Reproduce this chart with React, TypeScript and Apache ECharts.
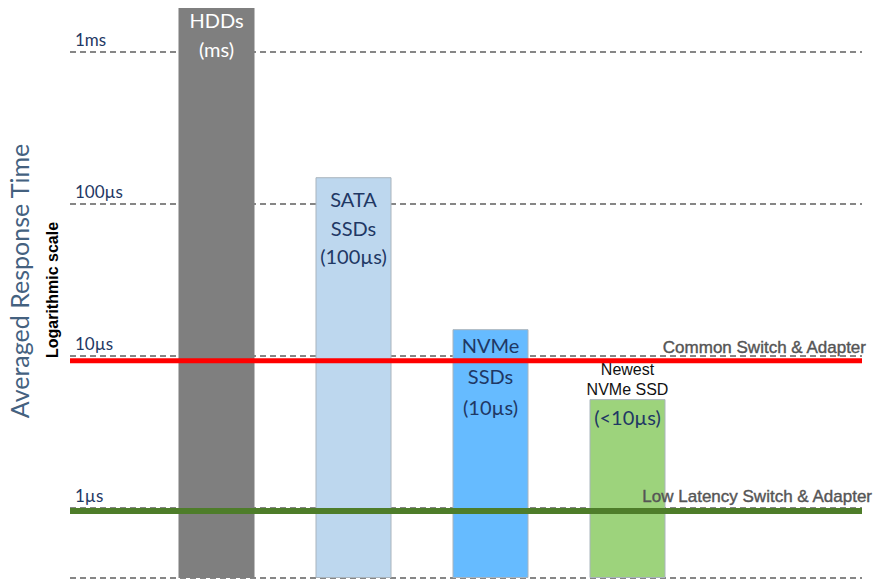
import React, { useEffect, useRef } from 'react';
import * as echarts from 'echarts';

const categories = ['HDDs', 'SATA SSDs', 'NVMe SSDs', 'Newest NVMe SSD'];
const responseTimeUs = [1950, 150, 15, 5.2];
const barLabels = ['HDDs\n(ms)', 'SATA\nSSDs\n(100µs)', 'NVMe\nSSDs\n(10µs)', '{a|Newest}\n{a|NVMe SSD}\n{b|(<10µs)}'];
const barColors = ['#7f7f7f', '#bdd7ee', '#66bbff', '#9dd37c'];
const tickValuesUs = [1, 10, 100, 1000];
const tickLabels = ['1µs', '10µs', '100µs', '1ms'];
const switchNames = ['Common Switch & Adapter', 'Low Latency Switch & Adapter'];
const switchLatencyUs = [9.3, 0.955];
const switchColors = ['#ff0000', '#4e7d2a'];
const axisMinUs = 0.346;
const axisMaxUs = 1000;

const NAVY = '#1f3864';
const CAL = 'Lato, "Open Sans", sans-serif';

export default function App() {
  const ref = useRef<HTMLDivElement>(null);
  useEffect(() => {
    document.body.style.margin = '0';
    const chart = echarts.init(ref.current!, null, { renderer: 'svg' });
    const yBase: any = { type: 'log', logBase: 10, min: axisMinUs, max: axisMaxUs };
    const labelCfgs: any[] = [
      { color: '#ffffff', lineHeight: 29, distance: 0, offset: [0, -2] },
      { color: NAVY, lineHeight: 28.5, distance: 8 },
      { color: NAVY, lineHeight: 31, distance: 0 },
      {
        distance: 0,
        offset: [0, -40],
        rich: {
          a: { fontFamily: '"Liberation Sans", Arial, sans-serif', fontSize: 16, color: '#111', lineHeight: 20 },
          b: { fontFamily: CAL, fontSize: 20, color: NAVY, lineHeight: 36 },
        },
      },
    ];
    chart.setOption({
      animation: false,
      grid: [
        { left: 70, right: 13, top: 52, bottom: 2 },
        { left: 148, right: 179, top: 52, bottom: 2 },
      ],
      xAxis: [
        { gridIndex: 0, type: 'value', min: 0, max: 1, show: false },
        { gridIndex: 1, type: 'category', data: categories, show: false },
      ],
      yAxis: [
        {
          ...yBase,
          gridIndex: 0,
          axisLine: { show: false },
          axisTick: { show: false },
          splitLine: { show: true, lineStyle: { color: '#5f5f5f', type: [6, 4], width: 1.5 } },
          axisLabel: {
            inside: true,
            margin: 5,
            verticalAlign: 'bottom',
            padding: [0, 0, 4, 0],
            color: NAVY,
            fontFamily: CAL,
            fontSize: 17,
            formatter: (v: number) => {
              const i = tickValuesUs.findIndex((t) => Math.abs(t - v) / t < 1e-6);
              return i >= 0 ? tickLabels[i] : '';
            },
          },
        },
        { ...yBase, gridIndex: 1, show: false, startValue: axisMinUs, splitLine: { show: false } },
      ],
      series: [
        {
          type: 'bar',
          xAxisIndex: 1,
          yAxisIndex: 1,
          barWidth: 76,
          clip: false,
          z: 2,
          data: responseTimeUs.map((v, i) => ({
            value: v,
            itemStyle: {
              color: barColors[i],
              borderColor: i === 0 ? barColors[0] : '#a9b4bd',
              borderWidth: i === 0 ? 0 : 1,
            },
            label: {
              show: true,
              position: 'insideTop',
              formatter: barLabels[i],
              fontFamily: CAL,
              fontSize: 20,
              align: 'center',
              ...labelCfgs[i],
            },
          })),
        },
        ...switchNames.map((name, i) => ({
          type: 'line',
          name,
          xAxisIndex: 0,
          yAxisIndex: 0,
          z: 5,
          symbol: 'circle',
          symbolSize: 0,
          showSymbol: true,
          lineStyle: { color: switchColors[i], width: i === 0 ? 5 : 6 },
          itemStyle: { color: switchColors[i] },
          label: {
            show: true,
            position: 'left',
            distance: 0,
            offset: [i === 0 ? 4 : 10, i === 0 ? -13 : -14],
            formatter: (p: any) => (p.dataIndex === 1 ? name : ''),
            fontFamily: '"Liberation Sans", Arial, sans-serif',
            fontSize: 17,
            color: '#555555',
            textBorderColor: '#555555',
            textBorderWidth: 0.4,
          },
          data: [
            [0, switchLatencyUs[i]],
            [1, switchLatencyUs[i]],
          ],
        })),
      ],
      graphic: [
        {
          type: 'text',
          x: 19,
          y: 281,
          rotation: Math.PI / 2,
          style: {
            text: 'Averaged Response Time',
            fontFamily: CAL,
            fontSize: 25,
            fill: '#44617f',
            align: 'center',
            verticalAlign: 'middle',
          },
        },
        {
          type: 'text',
          x: 52,
          y: 290,
          rotation: Math.PI / 2,
          style: {
            text: 'Logarithmic scale',
            fontFamily: '"Liberation Sans Narrow", "Liberation Sans", Arial, sans-serif',
            fontWeight: 'bold',
            fontSize: 16,
            fill: '#000000',
            align: 'center',
            verticalAlign: 'middle',
          },
        },
      ],
    });
    return () => chart.dispose();
  }, []);
  return <div ref={ref} style={{ width: 875, height: 580 }} />;
}
